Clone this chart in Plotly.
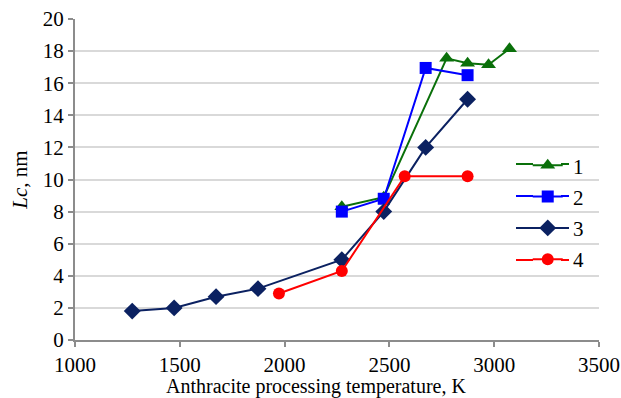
import plotly.graph_objects as go

t1 = [2273, 2473, 2773, 2873, 2973, 3073]
lc1 = [8.3, 8.9, 17.55, 17.25, 17.15, 18.15]
t2 = [2273, 2473, 2673, 2873]
lc2 = [8.0, 8.8, 16.95, 16.5]
t3 = [1273, 1473, 1673, 1873, 2273, 2473, 2673, 2873]
lc3 = [1.8, 2.0, 2.7, 3.2, 5.0, 8.0, 12.0, 15.0]
t4 = [1973, 2273, 2573, 2873]
lc4 = [2.9, 4.3, 10.2, 10.2]

names = ["1", "2", "3", "4"]
x_ticks = [1000, 1500, 2000, 2500, 3000, 3500]
y_ticks = list(range(0, 21, 2))
FONT = "Times New Roman"

series = [
    (t1, lc1, "#0a700a", "triangle-up", 13),
    (t2, lc2, "#0000ff", "square", 12),
    (t3, lc3, "#0b2161", "diamond", 13),
    (t4, lc4, "#ff0000", "circle", 12),
]

fig = go.Figure()
for i, (x, y, c, sym, sz) in enumerate(series):
    fig.add_trace(go.Scatter(
        x=x, y=y, name="&nbsp;" + names[i], mode="lines+markers",
        line=dict(color=c, width=2),
        marker=dict(symbol=sym, size=sz, color=c),
        legendgroup=names[i],
    ))

# plot-area pixel helpers for legend line extensions
L, T, W, H = 75, 19, 524, 321
def px(xp):
    return (xp - L) / W
def py(yp):
    return (T + H - yp) / H

shapes = []
legend_rows = [164, 196, 228, 260]
for (x, y, c, sym, sz), row in zip(series, legend_rows):
    for a, b in [(516, 533), (561, 569)]:
        shapes.append(dict(type="line", xref="paper", yref="paper",
                           x0=px(a), x1=px(b), y0=py(row), y1=py(row),
                           line=dict(color=c, width=2)))

tf = dict(family=FONT, size=21, color="black")
fig.update_layout(
    width=621, height=398,
    margin=dict(l=75, r=22, t=19, b=58, autoexpand=False),
    paper_bgcolor="white", plot_bgcolor="white",
    font=tf,
    showlegend=True,
    legend=dict(x=0.864, y=0.607, xanchor="left", yanchor="top",
                bgcolor="rgba(0,0,0,0)", font=tf,
                tracegroupgap=1, traceorder="grouped"),
    xaxis=dict(range=[1000, 3500], tickvals=x_ticks,
               ticktext=[str(v) for v in x_ticks],
               showgrid=False, showline=True, linecolor="#8c8c8c", linewidth=2,
               ticks="outside", ticklen=5, tickcolor="#8c8c8c", tickwidth=2,
               zeroline=False, automargin=False, tickfont=tf),
    yaxis=dict(range=[0, 20], tickvals=y_ticks,
               ticktext=[str(v) for v in y_ticks],
               showgrid=True, gridcolor="#d9d9d9", gridwidth=2,
               showline=True, linecolor="#8c8c8c", linewidth=2,
               ticks="outside", ticklen=5, tickcolor="#8c8c8c", tickwidth=2,
               zeroline=False, automargin=False, tickfont=tf,
               title=dict(text="<i>Lc</i>, nm", standoff=9, font=tf)),
    shapes=shapes,
    annotations=[dict(text="Anthracite processing temperature, K",
                      xref="paper", yref="paper", x=0.46, y=-0.18,
                      xanchor="center", yanchor="bottom", showarrow=False,
                      borderpad=0, borderwidth=0,
                      font=dict(family=FONT, size=20, color="black"))],
)

fig.write_html("out.html")
